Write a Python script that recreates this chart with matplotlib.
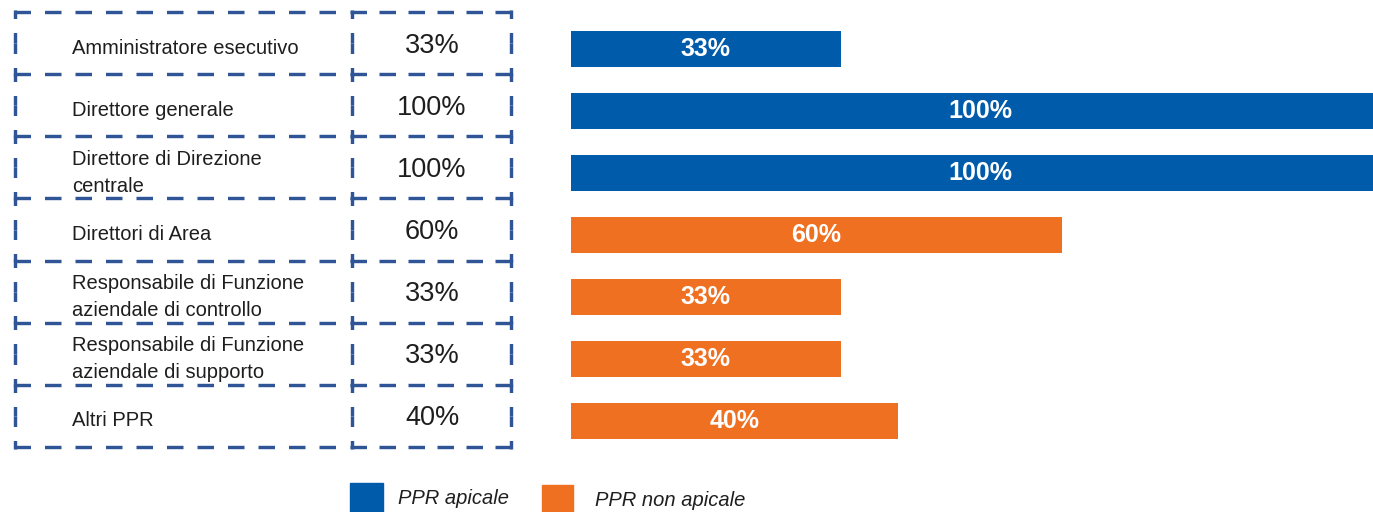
import matplotlib
matplotlib.use("Agg")
import matplotlib.pyplot as plt
from matplotlib.patches import Rectangle

plt.rcParams['font.family'] = ['Liberation Sans', 'DejaVu Sans']
plt.rcParams['lines.scale_dashes'] = False

# ---- data ----
categories = [
    "Amministratore esecutivo",
    "Direttore generale",
    "Direttore di Direzione\ncentrale",
    "Direttori di Area",
    "Responsabile di Funzione\naziendale di controllo",
    "Responsabile di Funzione\naziendale di supporto",
    "Altri PPR",
]
values = [33, 100, 100, 60, 33, 33, 40]
value_labels = ["33%", "100%", "100%", "60%", "33%", "33%", "40%"]
groups = ["apicale", "apicale", "apicale", "non", "non", "non", "non"]
legend_labels = ["PPR apicale", "PPR non apicale"]

BLUE = "#005BAA"
ORANGE = "#F07022"
DASH = "#2F5597"
colors = [BLUE if g == "apicale" else ORANGE for g in groups]

W, H = 1373, 512
fig = plt.figure(figsize=(W / 100, H / 100), dpi=100)

# ---- overlay axes in pixel coordinates for table + legend ----
ov = fig.add_axes([0, 0, 1, 1])
ov.set_xlim(0, W)
ov.set_ylim(H, 0)
ov.axis("off")

n = len(categories)
row_top = 11.8
row_h = 62.2
x_left, x_mid, x_right = 15, 351.5, 511
lw = 3.4 * 0.72
PX = 0.72  # points per pixel


def line(xa, ya, xb, yb, on, off, offset=0.0):
    ov.plot([xa, xb], [ya, yb], color=DASH, lw=lw,
            linestyle=(offset * PX, (on * PX, off * PX)),
            dash_capstyle='butt', solid_capstyle='butt')


# horizontal edges
for i in range(n + 1):
    y = row_top + i * row_h
    line(x_left - 1.5, y, 341, y, 16.5, 14)
    line(x_mid - 1.5, y, x_right + 1.5, y, 16.5, 12.5)

# vertical edges: half-dash at each end, full dash in the middle
for i in range(n):
    y0 = row_top + i * row_h
    y1 = y0 + row_h
    ym = (y0 + y1) / 2
    for x in (x_left, x_mid, x_right):
        line(x, y0 - 1.5, x, ym, 17, 14, offset=8.5)
        line(x, y1 + 1.5, x, ym, 17, 14, offset=8.5)

# ---- bars (100% bars run past the right edge of the picture) ----
bar_left = 571
bar_full = 818
bar_top = 18
bar_bottom = 452
ax = fig.add_axes([bar_left / W, 1 - bar_bottom / H, bar_full / W,
                   (bar_bottom - bar_top) / H])
ypos = list(range(n))
ax.barh(ypos, values, height=0.58, color=colors)
ax.set_xlim(0, 100)
ax.set_ylim(n - 0.5, -0.5)
ax.axis("off")
for yi, v, lab in zip(ypos, values, value_labels):
    ax.text(v / 2, yi, lab, ha="center", va="center", color="white",
            fontsize=18, fontweight="bold")

# table texts, aligned to bar centres
for yi, cat, lab in zip(ypos, categories, value_labels):
    ypx = bar_top + (yi + 0.5) * (bar_bottom - bar_top) / n
    ov.text(72, ypx, cat, ha="left", va="center", fontsize=14.5,
            color="#1e1e1e", linespacing=1.5)
    ov.text(432, ypx - 3, lab, ha="center", va="center", fontsize=19.5,
            color="#1e1e1e")

# ---- legend ----
ov.add_patch(Rectangle((350, 483), 33, 40, color=BLUE, clip_on=False))
ov.text(398, 499, legend_labels[0], ha="left", va="center", fontsize=14.5,
        style="italic", color="#1e1e1e")
ov.add_patch(Rectangle((542, 485), 31, 40, color=ORANGE, clip_on=False))
ov.text(595, 501, legend_labels[1], ha="left", va="center", fontsize=14.5,
        style="italic", color="#1e1e1e")

fig.savefig("out.png", dpi=100)
